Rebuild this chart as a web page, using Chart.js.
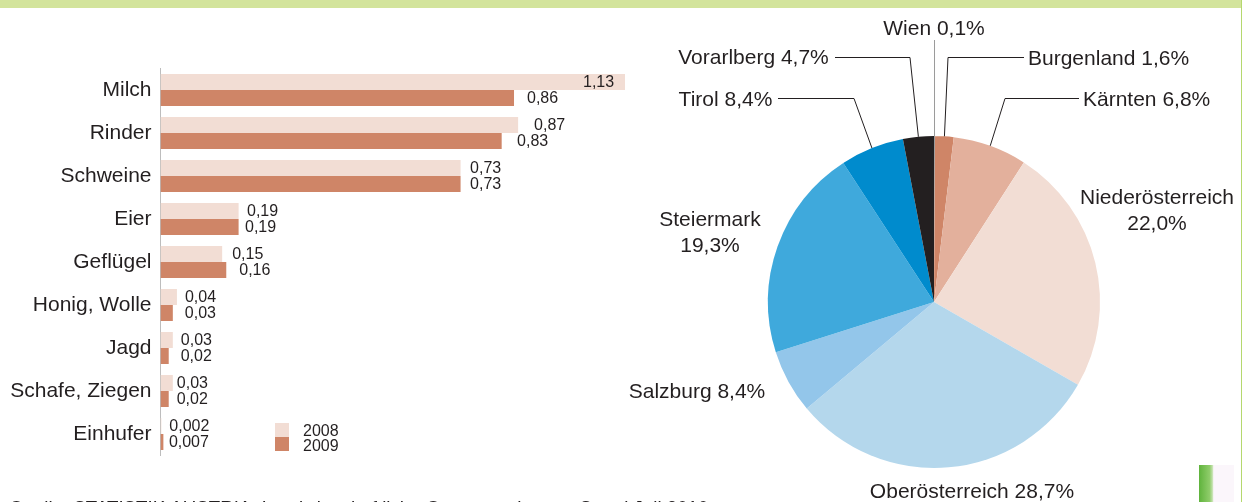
<!DOCTYPE html>
<html><head><meta charset="utf-8">
<style>
html,body{margin:0;padding:0;background:#fff;width:1242px;height:502px;overflow:hidden;position:relative}
#band{position:absolute;left:0;top:0;width:1242px;height:8px;background:#d3e49c}
#edge{position:absolute;left:1241px;top:0;width:1px;height:502px;background:#b5d86e}
#thumb{position:absolute;left:1199px;top:465px;width:35px;height:37px;background:linear-gradient(90deg,#5fb33c 0,#8fcc6a 30%,#bfe0a8 38%,#fbf6fb 42%,#fbf6fb 100%)}
canvas{position:absolute;top:0}
#bars{left:0;width:720px;height:502px}
#pie{left:600px;width:640px;height:502px}
</style>
<script src="https://cdn.jsdelivr.net/npm/chart.js@4"></script>
</head><body>
<div id="band"></div><div id="edge"></div><div id="thumb"></div>
<canvas id="bars" width="720" height="502"></canvas>
<canvas id="pie" width="640" height="502"></canvas>
<script>
const categories=['Milch','Rinder','Schweine','Eier','Geflügel','Honig, Wolle','Jagd','Schafe, Ziegen','Einhufer'];
const values2008=[1.13,0.87,0.73,0.19,0.15,0.04,0.03,0.03,0.002];
const values2009=[0.86,0.83,0.73,0.19,0.16,0.03,0.02,0.02,0.007];
const seriesNames=['2008','2009'];
const regions=['Wien 0,1%','Burgenland 1,6%','Kärnten 6,8%','Niederösterreich\n22,0%','Oberösterreich 28,7%','Salzburg 8,4%','Steiermark\n19,3%','Tirol 8,4%','Vorarlberg 4,7%'];
// slice sweeps as drawn in the picture (percent of the circle)
const sliceShares=[0.1,1.8,7.2,24.2,30.6,6.2,20.7,6.2,3.0];
const sourceLine='Quelle: STATISTIK AUSTRIA, Landwirtschaftliche Gesamtrechnung, Stand Juli 2010';

const INK='#231f20',FONT='"Liberation Sans",Arial,sans-serif';
const LIGHT='#f2ddd4',DARK='#cf8567';
const sliceColors=['#9a9a9a',DARK,'#e3b09c',LIGHT,'#b4d7ec','#93c6ea','#3fa9dc','#008bcd',INK];
// gap between bar end and its label, per series and row
const labelGap=[[-42,16,9.5,8.4,10,8,8,4,8],[13,15.4,9.5,6.4,13,12,12,8,5.5]];

const barLabels={id:'barLabels',afterDatasetsDraw(c){
  const x=c.ctx;x.save();x.font='16px '+FONT;x.fillStyle=INK;x.textBaseline='middle';x.textAlign='left';
  c.data.datasets.forEach((d,i)=>{c.getDatasetMeta(i).data.forEach((b,j)=>{
    x.fillText(String(d.data[j]).replace('.',','),b.x+labelGap[i][j],b.y+1);
  });});
  // legend
  c.data.datasets.forEach((d,i)=>{
    x.fillStyle=d.backgroundColor;x.fillRect(275,423+i*14,14,14);
    x.fillStyle=INK;x.fillText(d.label,303,432+i*15);
  });
  x.font='18.7px '+FONT;x.fillStyle=INK;x.textBaseline='alphabetic';
  x.fillText(sourceLine,9,513.5);
  x.restore();
}};
new Chart(document.getElementById('bars'),{type:'bar',
 data:{labels:categories,datasets:[
  {label:seriesNames[0],data:values2008,backgroundColor:LIGHT},
  {label:seriesNames[1],data:values2009,backgroundColor:DARK}]},
 options:{indexAxis:'y',responsive:false,animation:false,
  layout:{padding:{top:68.5,bottom:46.5,right:95,left:0}},
  plugins:{legend:{display:false},tooltip:{enabled:false}},
  datasets:{bar:{categoryPercentage:0.74,barPercentage:1}},
  scales:{
   x:{display:false,min:0,max:1.13},
   y:{afterFit(s){s.width=160.5},grid:{display:false,drawTicks:false},border:{display:true,color:'#bdbdbd',width:1},
      ticks:{color:INK,font:{size:21,family:FONT},padding:9,autoSkip:false}}
  }},plugins:[barLabels]});

// where each label sits, relative to the pie canvas; elbow = corner of its leader
const labelPlace=[
 {x:334,y:29,a:'center',top:40},
 {x:428,y:59,a:'left',elbow:[348,57],tail:424},
 {x:483,y:100,a:'left',elbow:[405,98],tail:479},
 {x:557,y:198,a:'center'},
 {x:372,y:492,a:'center'},
 {x:97,y:392,a:'center'},
 {x:110,y:220,a:'center'},
 {x:125.5,y:100,a:'center',elbow:[254,98],tail:178},
 {x:153.5,y:58,a:'center',elbow:[310,57],tail:235}];
const pieLabels={id:'pieLabels',afterDatasetsDraw(c){
  const x=c.ctx;x.save();x.font='21px '+FONT;x.fillStyle=INK;x.textBaseline='middle';
  c.getDatasetMeta(0).data.forEach((arc,i)=>{
    const p=labelPlace[i],mid=(arc.startAngle+arc.endAngle)/2;
    const ex=arc.x+Math.cos(mid)*arc.outerRadius,ey=arc.y+Math.sin(mid)*arc.outerRadius;
    if(p.top){x.strokeStyle='#9a9a9a';x.lineWidth=1;x.beginPath();x.moveTo(ex,ey);x.lineTo(ex,p.top);x.stroke();}
    if(p.elbow){x.strokeStyle=INK;x.lineWidth=1;x.beginPath();x.moveTo(p.tail,p.elbow[1]+.5);x.lineTo(p.elbow[0],p.elbow[1]+.5);x.lineTo(ex,ey);x.stroke();}
    x.textAlign=p.a;
    String(regions[i]).split('\n').forEach((t,k)=>x.fillText(t,p.x,p.y+k*26));
  });
  x.restore();
}};
new Chart(document.getElementById('pie'),{type:'pie',
 data:{labels:regions,datasets:[{data:sliceShares,backgroundColor:sliceColors,borderWidth:0}]},
 options:{responsive:false,animation:false,
  layout:{padding:{left:168,right:140,top:136,bottom:34}},
  plugins:{legend:{display:false},tooltip:{enabled:false}}},plugins:[pieLabels]});
</script></body></html>
